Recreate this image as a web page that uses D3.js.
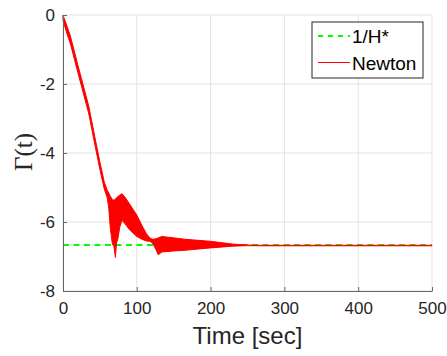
<!DOCTYPE html>
<html>
<head>
<meta charset="utf-8">
<script src="https://cdn.jsdelivr.net/npm/d3@7"></script>
<style>
    body { margin: 0; background: #fff; }
    .tick text { font-family: "Liberation Sans", Arial, sans-serif; font-size: 17px; fill: #262626; }
</style>
</head>
<body>
<script>
//Gamma(t) response vs time, Newton method against 1/H* target

(function(){

//time axis of the envelope (sec)
var timeSec = [0, 5, 10, 20, 25, 35, 43, 50, 56, 60, 62, 64, 67, 69, 71, 72.5, 74, 77, 80, 84,
    90, 100, 107, 113, 118, 122, 127, 129, 134, 150, 165, 200, 230, 250, 270, 500];
//upper edge of the oscillating Newton trace
var newtonUpper = [0, -0.3, -0.61, -1.44, -1.84, -2.65, -3.52, -4.26, -4.85, -5.08, -5.16, -5.25, -5.35, -5.37, -5.33, -5.3, -5.27, -5.22, -5.18, -5.28,
    -5.47, -5.8, -6.1, -6.34, -6.47, -6.5, -6.48, -6.46, -6.42, -6.46, -6.5, -6.56, -6.64, -6.668, -6.675, -6.675];
//lower edge of the oscillating Newton trace
var newtonLower = [-0.15, -0.52, -0.83, -1.66, -2.06, -2.87, -3.74, -4.48, -5.05, -5.3, -5.6, -6.15, -6.65, -6.7, -7.03, -6.6, -6.53, -6.14, -5.95, -6.05,
    -6.22, -6.42, -6.5, -6.55, -6.56, -6.63, -6.85, -6.95, -6.87, -6.84, -6.82, -6.75, -6.7, -6.685, -6.69, -6.69];

var targetValue = -6.67;
var xTicks = [0, 100, 200, 300, 400, 500];
var yTicks = [-8, -6, -4, -2, 0];
var legendNames = ["1/H*", "Newton"];

var width = 447,
    height = 356,
    left = 63,
    right = 432,
    top = 15,
    bottom = 291;

var svg = d3.select("body")
    .append("svg")
    .attr("width", width)
    .attr("height", height);

var x = d3.scaleLinear().domain([0, 500]).range([left, right]);
var y = d3.scaleLinear().domain([-8, 0]).range([bottom, top]);

//grid lines
svg.selectAll(".gridX")
    .data(xTicks)
    .enter()
    .append("line")
    .attr("x1", function(d){ return x(d); })
    .attr("x2", function(d){ return x(d); })
    .attr("y1", top)
    .attr("y2", bottom)
    .attr("stroke", "#e3e3e3")
    .attr("stroke-width", 1);

svg.selectAll(".gridY")
    .data(yTicks)
    .enter()
    .append("line")
    .attr("x1", left)
    .attr("x2", right)
    .attr("y1", function(d){ return y(d); })
    .attr("y2", function(d){ return y(d); })
    .attr("stroke", "#e3e3e3")
    .attr("stroke-width", 1);

//target line 1/H*
svg.append("line")
    .attr("x1", x(0))
    .attr("x2", x(500))
    .attr("y1", y(targetValue))
    .attr("y2", y(targetValue))
    .attr("stroke", "#00ff00")
    .attr("stroke-width", 2)
    .attr("stroke-dasharray", "6,4.5");

//Newton trace as a filled band (the oscillation is too fast to see single swings)
var rows = timeSec.map(function(t, i){
    return { t: t, hi: newtonUpper[i], lo: newtonLower[i] };
});

var area = d3.area()
    .x(function(d){ return x(d.t); })
    .y0(function(d){ return y(d.lo); })
    .y1(function(d){ return y(d.hi); });

svg.append("path")
    .datum(rows)
    .attr("d", area)
    .attr("fill", "#ff0000")
    .attr("stroke", "#ff0000")
    .attr("stroke-width", 1)
    .attr("stroke-linejoin", "round");

//axes (plain hyphen for negatives, like the original)
var plain = function(d){ return String(d); };
var xAxis = d3.axisBottom(x).tickValues(xTicks).tickFormat(plain).tickSizeInner(-4).tickSizeOuter(0).tickPadding(10);
var yAxis = d3.axisLeft(y).tickValues(yTicks).tickFormat(plain).tickSizeInner(-4).tickSizeOuter(0).tickPadding(8);

var gx = svg.append("g")
    .attr("transform", "translate(0," + bottom + ")")
    .call(xAxis);

var gy = svg.append("g")
    .attr("transform", "translate(" + left + ",0)")
    .call(yAxis);

[gx, gy].forEach(function(g){
    g.select(".domain").attr("stroke", "#666").attr("stroke-width", 1);
    g.selectAll(".tick line").attr("stroke", "#666");
    g.selectAll(".tick text").attr("font-size", null).attr("font-family", null);
});
gx.selectAll(".tick text").attr("dy", "0.78em");

//axis labels
svg.append("text")
    .attr("x", (left + right) / 2)
    .attr("y", 344)
    .attr("text-anchor", "middle")
    .style("font-family", "'Liberation Sans', Arial, sans-serif")
    .style("font-size", "24px")
    .style("fill", "#262626")
    .text("Time [sec]");

svg.append("text")
    .attr("transform", "translate(32,152) rotate(-90)")
    .attr("text-anchor", "middle")
    .style("font-family", "'Liberation Serif', 'Times New Roman', serif")
    .style("font-size", "25px")
    .style("fill", "#262626")
    .text("\u0393(t)");

//legend
var legend = svg.append("g");

legend.append("rect")
    .attr("x", 312)
    .attr("y", 22)
    .attr("width", 111)
    .attr("height", 56)
    .attr("fill", "#fff")
    .attr("stroke", "#262626")
    .attr("stroke-width", 1);

var legendStyle = [
    { color: "#00ff00", dash: "5,5", w: 2 },
    { color: "#ff0000", dash: null, w: 1 }
];

legendNames.forEach(function(name, i){
    var ly = 36 + i * 26.5;
    legend.append("line")
        .attr("x1", 318)
        .attr("x2", 350)
        .attr("y1", ly)
        .attr("y2", ly)
        .attr("stroke", legendStyle[i].color)
        .attr("stroke-width", legendStyle[i].w)
        .attr("stroke-dasharray", legendStyle[i].dash);
    legend.append("text")
        .attr("x", 352)
        .attr("y", ly + 7)
        .style("font-family", "'Liberation Sans', Arial, sans-serif")
        .style("font-size", "19px")
        .style("fill", "#000")
        .text(name);
});

})();
</script>
</body>
</html>
